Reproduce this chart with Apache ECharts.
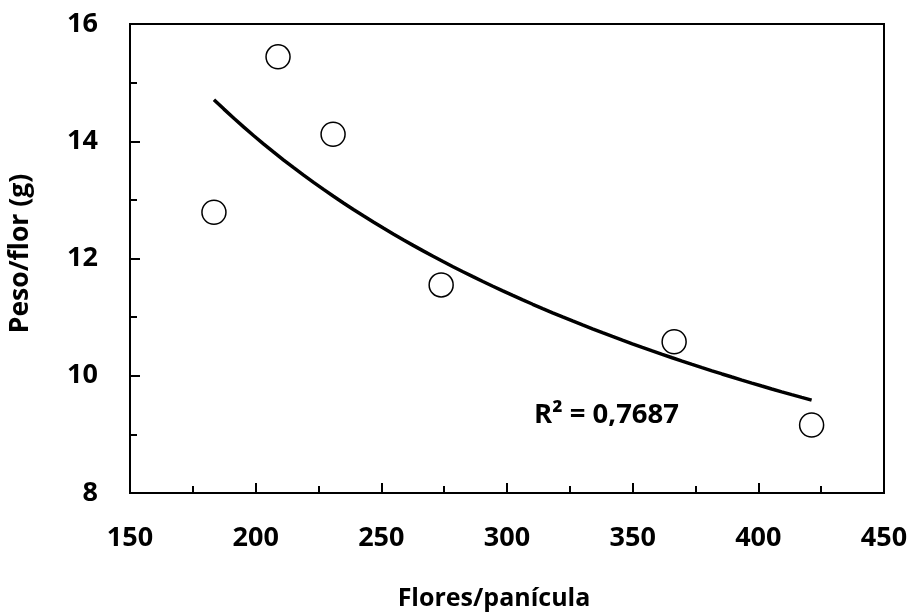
<!DOCTYPE html>
<html>
<head>
  <meta charset="utf-8">
  <title>Peso/flor x Flores/panícula</title>
  <script src="https://cdn.jsdelivr.net/npm/echarts@6/dist/echarts.min.js"></script>
  <style>
    html, body { margin: 0; padding: 0; background: #fff; }
    #chart { width: 911px; height: 612px; }
  </style>
</head>
<body>
<div id="chart"></div>
<script>
  // dados
  var flores = [183.4, 208.9, 230.8, 273.8, 366.5, 421.2];
  var peso = [12.79, 15.44, 14.12, 11.55, 10.58, 9.16];
  var xTicks = [150, 200, 250, 300, 350, 400, 450];
  var yTicks = [8, 10, 12, 14, 16];
  var r2Text = 'R² = 0,7687';

  var fontFam = '"Open Sans", Lato, sans-serif';

  // linha de tendência potência (y = a * x^b), mínimos quadrados em log
  var lx = flores.map(Math.log), ly = peso.map(Math.log);
  var mx = lx.reduce(function (s, v) { return s + v; }, 0) / lx.length;
  var my = ly.reduce(function (s, v) { return s + v; }, 0) / ly.length;
  var sxy = 0, sxx = 0;
  for (var i = 0; i < lx.length; i++) {
    sxy += (lx[i] - mx) * (ly[i] - my);
    sxx += (lx[i] - mx) * (lx[i] - mx);
  }
  var b = sxy / sxx, a = Math.exp(my - b * mx);
  var x0 = Math.min.apply(null, flores), x1 = Math.max.apply(null, flores);
  var trend = [];
  for (var k = 0; k <= 60; k++) {
    var xv = x0 + (x1 - x0) * k / 60;
    trend.push([xv, a * Math.pow(xv, b)]);
  }

  var chart = echarts.init(document.getElementById('chart'));
  var option = {
    animation: false,
    backgroundColor: '#fff',
    grid: {
      left: 130, right: 27, top: 24, bottom: 119,
      outerBoundsMode: 'none',
      containLabel: false,
      show: true, borderColor: '#000', borderWidth: 2
    },
    xAxis: {
      type: 'value',
      min: xTicks[0], max: xTicks[xTicks.length - 1], interval: 50,
      name: 'Flores/panícula',
      nameLocation: 'middle',
      nameGap: 93,
      nameTextStyle: { fontFamily: fontFam, fontWeight: 'bold', fontSize: 25, color: '#000', padding: [0, 26, 0, 0] },
      axisLine: { show: true, onZero: false, lineStyle: { color: '#000', width: 2 } },
      axisTick: { show: true, inside: true, length: 10, lineStyle: { color: '#000', width: 2 } },
      minorTick: { show: true, splitNumber: 2, length: 7, lineStyle: { color: '#000', width: 2 } },
      splitLine: { show: false },
      axisLabel: { fontFamily: fontFam, fontWeight: 'bold', fontSize: 27, color: '#000', margin: 32 }
    },
    yAxis: {
      type: 'value',
      min: yTicks[0], max: yTicks[yTicks.length - 1], interval: 2,
      name: 'Peso/flor (g)',
      nameLocation: 'middle',
      nameGap: 96,
      nameTextStyle: { fontFamily: fontFam, fontWeight: 'bold', fontSize: 26.5, color: '#000', padding: [0, 0, 0, 10] },
      axisLine: { show: true, onZero: false, lineStyle: { color: '#000', width: 2 } },
      axisTick: { show: true, inside: true, length: 10, lineStyle: { color: '#000', width: 2 } },
      minorTick: { show: true, splitNumber: 2, length: 7, lineStyle: { color: '#000', width: 2 } },
      splitLine: { show: false },
      axisLabel: { fontFamily: fontFam, fontWeight: 'bold', fontSize: 27, color: '#000', margin: 32 }
    },
    series: [
      {
        type: 'scatter',
        data: flores.map(function (x, i) { return [x, peso[i]]; }),
        symbol: 'circle',
        symbolSize: 24,
        itemStyle: { color: '#fff', borderColor: '#000', borderWidth: 1.5, opacity: 1 },
        z: 2
      },
      {
        type: 'line',
        data: trend,
        showSymbol: false,
        symbol: 'none',
        lineStyle: { color: '#000', width: 3.5 },
        z: 3
      }
    ],
    graphic: [
      {
        type: 'text',
        left: 534, top: 401,
        style: { text: r2Text, fontFamily: fontFam, fontWeight: 'bold', fontSize: 27.5, fill: '#000' }
      }
    ]
  };
  chart.setOption(option);
  window.onresize = function () { chart.resize(); };
</script>
</body>
</html>
